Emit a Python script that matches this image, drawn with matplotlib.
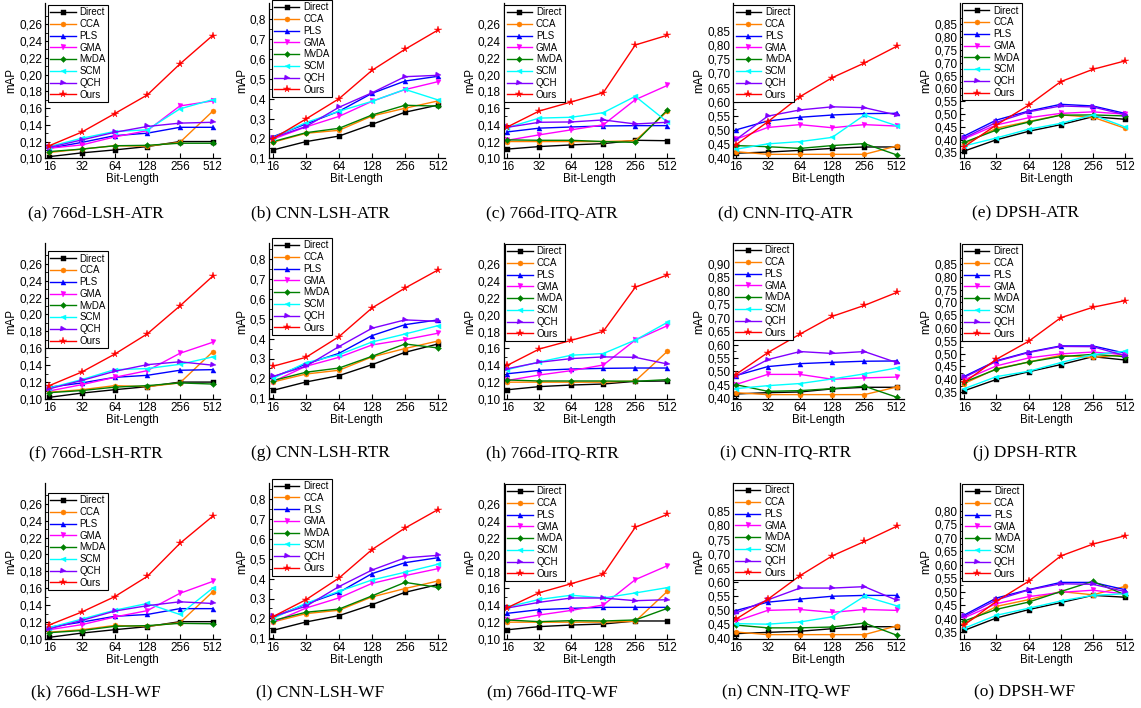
import matplotlib
matplotlib.use("Agg")
import matplotlib.pyplot as plt
from matplotlib.ticker import FuncFormatter, FixedLocator, NullFormatter, NullLocator
import numpy as np

# ---------------- data ----------------
bit_lengths = [16, 32, 64, 128, 256, 512]
methods = ["Direct", "CCA", "PLS", "GMA", "MvDA", "SCM", "QCH", "Ours"]
colors = ["#000000", "#FF8000", "#0000FF", "#FF00FF", "#008000", "#00FFFF", "#8000FF", "#FF0000"]
markers = ["s", "o", "^", "v", "D", "<", ">", "*"]

captions = ["(a) 766d-LSH-ATR", "(b) CNN-LSH-ATR", "(c) 766d-ITQ-ATR", "(d) CNN-ITQ-ATR", "(e) DPSH-ATR",
            "(f) 766d-LSH-RTR", "(g) CNN-LSH-RTR", "(h) 766d-ITQ-RTR", "(i) CNN-ITQ-RTR", "(j) DPSH-RTR",
            "(k) 766d-LSH-WF", "(l) CNN-LSH-WF", "(m) 766d-ITQ-WF", "(n) CNN-ITQ-WF", "(o) DPSH-WF"]

# rows follow `methods` order
map_a = [[0.102, 0.1065, 0.110, 0.114, 0.120, 0.120],
         [0.107, 0.111, 0.115, 0.1145, 0.119, 0.156],
         [0.112, 0.119, 0.127, 0.130, 0.137, 0.137],
         [0.112, 0.116, 0.1255, 0.133, 0.1625, 0.1685],
         [0.108, 0.111, 0.115, 0.1155, 0.118, 0.118],
         [0.114, 0.124, 0.132, 0.134, 0.159, 0.170],
         [0.113, 0.122, 0.131, 0.138, 0.142, 0.143],
         [0.115, 0.1314, 0.1533, 0.1756, 0.2126, 0.2465]]
map_b = [[0.142, 0.184, 0.212, 0.271, 0.332, 0.368],
         [0.181, 0.226, 0.241, 0.313, 0.352, 0.389],
         [0.209, 0.273, 0.337, 0.427, 0.489, 0.513],
         [0.197, 0.258, 0.311, 0.387, 0.446, 0.486],
         [0.184, 0.229, 0.251, 0.318, 0.367, 0.363],
         [0.204, 0.280, 0.337, 0.387, 0.447, 0.394],
         [0.204, 0.260, 0.357, 0.430, 0.511, 0.518],
         [0.199, 0.298, 0.400, 0.543, 0.649, 0.746]]
map_c = [[0.111, 0.114, 0.116, 0.1175, 0.1215, 0.121],
         [0.120, 0.120, 0.120, 0.120, 0.121, 0.156],
         [0.1315, 0.136, 0.1374, 0.1386, 0.139, 0.139],
         [0.1215, 0.128, 0.134, 0.140, 0.170, 0.187],
         [0.122, 0.1215, 0.1215, 0.120, 0.119, 0.1577],
         [0.1366, 0.148, 0.149, 0.1545, 0.174, 0.1434],
         [0.137, 0.143, 0.1434, 0.1458, 0.141, 0.143],
         [0.1374, 0.1565, 0.1673, 0.1784, 0.2353, 0.2469]]
map_d = [[0.418, 0.422, 0.428, 0.435, 0.440, 0.440],
         [0.4235, 0.414, 0.414, 0.414, 0.414, 0.4435],
         [0.500, 0.532, 0.545, 0.553, 0.558, 0.559],
         [0.467, 0.509, 0.519, 0.508, 0.519, 0.514],
         [0.445, 0.441, 0.435, 0.445, 0.452, 0.412],
         [0.432, 0.451, 0.459, 0.474, 0.553, 0.515],
         [0.465, 0.549, 0.571, 0.582, 0.579, 0.553],
         [0.447, 0.529, 0.618, 0.685, 0.737, 0.796]]
map_e = [[0.355, 0.399, 0.432, 0.458, 0.489, 0.479],
         [0.383, 0.444, 0.470, 0.496, 0.487, 0.444],
         [0.414, 0.476, 0.511, 0.5375, 0.531, 0.502],
         [0.403, 0.457, 0.485, 0.502, 0.508, 0.499],
         [0.389, 0.437, 0.468, 0.495, 0.496, 0.492],
         [0.375, 0.406, 0.440, 0.463, 0.496, 0.449],
         [0.407, 0.467, 0.508, 0.531, 0.527, 0.497],
         [0.372, 0.457, 0.534, 0.626, 0.674, 0.707]]
map_f = [[0.102, 0.107, 0.111, 0.1146, 0.120, 0.120],
         [0.108, 0.111, 0.1158, 0.1146, 0.119, 0.1556],
         [0.114, 0.119, 0.1256, 0.128, 0.134, 0.1347],
         [0.1095, 0.117, 0.1256, 0.1335, 0.154, 0.167],
         [0.1075, 0.110, 0.114, 0.1158, 0.119, 0.1177],
         [0.113, 0.123, 0.1347, 0.136, 0.141, 0.1497],
         [0.112, 0.122, 0.1327, 0.1406, 0.144, 0.140],
         [0.1158, 0.132, 0.153, 0.177, 0.210, 0.245]]
map_g = [[0.140, 0.182, 0.214, 0.269, 0.331, 0.373],
         [0.182, 0.222, 0.241, 0.308, 0.350, 0.388],
         [0.206, 0.272, 0.326, 0.415, 0.470, 0.494],
         [0.184, 0.261, 0.306, 0.368, 0.395, 0.427],
         [0.189, 0.231, 0.252, 0.311, 0.373, 0.353],
         [0.200, 0.279, 0.319, 0.383, 0.423, 0.465],
         [0.210, 0.261, 0.360, 0.452, 0.494, 0.487],
         [0.261, 0.306, 0.410, 0.554, 0.654, 0.745]]
map_h = [[0.111, 0.1147, 0.1166, 0.1178, 0.121, 0.1214],
         [0.120, 0.120, 0.120, 0.120, 0.1214, 0.1566],
         [0.130, 0.134, 0.1356, 0.1364, 0.1368, 0.1368],
         [0.122, 0.1285, 0.1337, 0.1404, 0.170, 0.187],
         [0.1226, 0.1214, 0.1214, 0.1214, 0.121, 0.123],
         [0.1349, 0.144, 0.152, 0.154, 0.170, 0.191],
         [0.136, 0.1436, 0.148, 0.150, 0.1495, 0.1416],
         [0.140, 0.1594, 0.1697, 0.1804, 0.2327, 0.2473]]
map_i = [[0.416, 0.421, 0.4236, 0.435, 0.441, 0.441],
         [0.421, 0.4137, 0.4137, 0.4137, 0.4137, 0.442],
         [0.484, 0.518, 0.529, 0.534, 0.538, 0.539],
         [0.451, 0.489, 0.489, 0.471, 0.476, 0.479],
         [0.451, 0.426, 0.4285, 0.436, 0.445, 0.404],
         [0.436, 0.447, 0.455, 0.472, 0.491, 0.513],
         [0.481, 0.544, 0.574, 0.567, 0.574, 0.533],
         [0.488, 0.570, 0.639, 0.705, 0.746, 0.794]]
map_j = [[0.355, 0.399, 0.429, 0.457, 0.488, 0.475],
         [0.383, 0.441, 0.467, 0.493, 0.485, 0.496],
         [0.411, 0.472, 0.506, 0.530, 0.530, 0.502],
         [0.398, 0.452, 0.483, 0.499, 0.506, 0.496],
         [0.389, 0.439, 0.467, 0.488, 0.497, 0.488],
         [0.363, 0.410, 0.431, 0.465, 0.496, 0.509],
         [0.407, 0.470, 0.504, 0.528, 0.527, 0.492],
         [0.388, 0.478, 0.548, 0.640, 0.681, 0.707]]
map_k = [[0.102, 0.107, 0.111, 0.1146, 0.1205, 0.1205],
         [0.108, 0.111, 0.116, 0.115, 0.1193, 0.1556],
         [0.114, 0.120, 0.1268, 0.129, 0.1359, 0.1359],
         [0.111, 0.117, 0.126, 0.1335, 0.154, 0.168],
         [0.1075, 0.110, 0.115, 0.1158, 0.1185, 0.118],
         [0.1134, 0.1236, 0.134, 0.142, 0.129, 0.160],
         [0.112, 0.122, 0.133, 0.1394, 0.144, 0.142],
         [0.1166, 0.132, 0.150, 0.174, 0.213, 0.245]]
map_l = [[0.140, 0.182, 0.214, 0.269, 0.331, 0.370],
         [0.182, 0.224, 0.241, 0.308, 0.350, 0.388],
         [0.206, 0.272, 0.331, 0.425, 0.480, 0.505],
         [0.180, 0.252, 0.303, 0.376, 0.415, 0.450],
         [0.189, 0.231, 0.247, 0.313, 0.381, 0.356],
         [0.200, 0.276, 0.336, 0.393, 0.432, 0.472],
         [0.210, 0.261, 0.360, 0.443, 0.504, 0.517],
         [0.209, 0.294, 0.403, 0.546, 0.654, 0.747]]
map_m = [[0.111, 0.1147, 0.1166, 0.1178, 0.1214, 0.1214],
         [0.120, 0.120, 0.120, 0.120, 0.121, 0.1566],
         [0.1305, 0.1349, 0.1364, 0.1376, 0.1376, 0.1376],
         [0.122, 0.1285, 0.134, 0.1404, 0.1705, 0.187],
         [0.1226, 0.1206, 0.1218, 0.1214, 0.1226, 0.1364],
         [0.138, 0.147, 0.152, 0.1487, 0.1547, 0.161],
         [0.1368, 0.1436, 0.1487, 0.1487, 0.1455, 0.1467],
         [0.1372, 0.155, 0.1657, 0.177, 0.2327, 0.248]]
map_n = [[0.4165, 0.421, 0.425, 0.434, 0.441, 0.441],
         [0.4225, 0.413, 0.413, 0.413, 0.413, 0.444],
         [0.498, 0.528, 0.539, 0.549, 0.552, 0.552],
         [0.460, 0.499, 0.502, 0.492, 0.502, 0.499],
         [0.447, 0.437, 0.437, 0.440, 0.454, 0.411],
         [0.452, 0.450, 0.458, 0.476, 0.549, 0.515],
         [0.489, 0.536, 0.578, 0.578, 0.583, 0.535],
         [0.467, 0.538, 0.622, 0.692, 0.743, 0.797]]
map_o = [[0.356, 0.402, 0.433, 0.459, 0.486, 0.479],
         [0.382, 0.445, 0.470, 0.500, 0.488, 0.519],
         [0.413, 0.476, 0.507, 0.534, 0.534, 0.507],
         [0.403, 0.455, 0.481, 0.497, 0.505, 0.491],
         [0.391, 0.434, 0.461, 0.500, 0.538, 0.488],
         [0.364, 0.412, 0.438, 0.465, 0.486, 0.492],
         [0.408, 0.469, 0.506, 0.529, 0.527, 0.500],
         [0.376, 0.464, 0.538, 0.632, 0.676, 0.707]]

panels = [map_a, map_b, map_c, map_d, map_e,
          map_f, map_g, map_h, map_i, map_j,
          map_k, map_l, map_m, map_n, map_o]

# y tick settings per column / panel: (first tick, last tick, step, decimals)
yticks_spec = [(0.10, 0.26, 0.02, 2), (0.1, 0.8, 0.1, 1), (0.10, 0.26, 0.02, 2), (0.40, 0.85, 0.05, 2), (0.35, 0.85, 0.05, 2),
               (0.10, 0.26, 0.02, 2), (0.1, 0.8, 0.1, 1), (0.10, 0.26, 0.02, 2), (0.40, 0.90, 0.05, 2), (0.35, 0.85, 0.05, 2),
               (0.10, 0.26, 0.02, 2), (0.1, 0.8, 0.1, 1), (0.10, 0.26, 0.02, 2), (0.40, 0.85, 0.05, 2), (0.35, 0.80, 0.05, 2)]

# ---------------- layout (pixels) ----------------
W, H = 1141, 708
col_L = [45, 268.5, 503.5, 733, 960]
col_x16 = [49.3, 273, 507.3, 735.5, 964.3]
col_x512 = [212.5, 438, 667.3, 896.7, 1125]
row_top = [3, 243, 483]
row_bot = [158.3, 399, 639]
# pixel rows of first and last y tick
tick_px = [(158.3, 24.3), (158.3, 19.3), (158.3, 24.3), (158.3, 31.0), (152.3, 24.3),
           (399, 263.7), (398.3, 259), (399, 264.3), (398.3, 264), (392, 264),
           (639, 503.7), (638.3, 499), (639, 504.3), (638.3, 511.3), (632, 510.7)]
legend_px = [(48, 5), (271.7, 0), (504.3, 5), (733.3, 5), (961.7, 3.3),
             (48, 251.3), (271.7, 238), (505, 244), (733, 243), (961.7, 244),
             (48, 493), (271.7, 478.7), (505, 484), (732.7, 483), (962.3, 484)]
cap_x = [96, 320, 552, 786, 1025]
cap_y = [213, 453, 692]

sans = ["Liberation Sans", "DejaVu Sans"]
serif = ["Liberation Serif", "DejaVu Serif"]
plt.rcParams["font.family"] = sans

fig = plt.figure(figsize=(W / 100, H / 100), dpi=100)

for idx, data in enumerate(panels):
    r, c = divmod(idx, 5)
    L = col_L[c]
    R = col_x512[c] + 7
    top, bot = row_top[r], row_bot[r]
    ax = fig.add_axes([L / W, 1 - bot / H, (R - L) / W, (bot - top) / H])

    for k, m in enumerate(methods):
        ms = 5.5 if markers[k] == "*" else (3.0 if markers[k] == "D" else 3.6)
        ax.plot(bit_lengths, data[k], color=colors[k], marker=markers[k], markersize=ms,
                markeredgewidth=0.3, markeredgecolor=colors[k], linewidth=1.0, label=m)

    ax.set_xscale("log", base=2)
    ppo = (col_x512[c] - col_x16[c]) / 5.0
    lo = 4 - (col_x16[c] - L) / ppo
    hi = 9 + (R - col_x512[c]) / ppo
    ax.set_xlim(2 ** lo, 2 ** hi)
    ax.xaxis.set_major_locator(FixedLocator(bit_lengths))
    ax.xaxis.set_major_formatter(FuncFormatter(lambda v, p: "%d" % round(v)))
    ax.xaxis.set_minor_locator(NullLocator())

    v1, v2, step, dec = yticks_spec[idx]
    p1, p2 = tick_px[idx]
    ppu = (p1 - p2) / (v2 - v1)
    ax.set_ylim(v1 - (bot - p1) / ppu, v1 + (p1 - top) / ppu)
    n = int(round((v2 - v1) / step))
    ticks = [v1 + i * step for i in range(n + 1)]
    minors = [v1 + (i + 0.5) * step for i in range(-1, n + 1)]
    ax.yaxis.set_major_locator(FixedLocator(ticks))
    ax.yaxis.set_minor_locator(FixedLocator(minors))
    ax.yaxis.set_major_formatter(FuncFormatter(lambda v, p, d=dec: ("%.*f" % (d, v)).replace(".", ",")))

    for s in ["top", "right"]:
        ax.spines[s].set_visible(False)
    for s in ["left", "bottom"]:
        ax.spines[s].set_linewidth(0.9)
    ax.tick_params(axis="both", which="major", direction="in", length=3.5, width=0.8,
                   labelsize=8.5, pad=2)
    ax.tick_params(axis="y", which="minor", direction="in", length=2, width=0.6)
    ax.set_xlabel("Bit-Length", fontsize=8.3, labelpad=0)
    ax.set_ylabel("mAP", fontsize=8.3, labelpad=1)

    lx, ly = legend_px[idx]
    leg = ax.legend(loc="upper left", bbox_to_anchor=((lx - L) / (R - L), (bot - ly) / (bot - top)),
                    borderaxespad=0, fontsize=7, handlelength=2.6, handletextpad=0.4,
                    labelspacing=0.18, borderpad=0.25, fancybox=False, framealpha=1,
                    edgecolor="black")
    leg.get_frame().set_linewidth(0.8)

    fig.text(cap_x[c] / W, 1 - cap_y[r] / H, captions[idx], ha="center", va="center",
             fontsize=12.5, family=serif)

fig.savefig("out.png", dpi=100)
